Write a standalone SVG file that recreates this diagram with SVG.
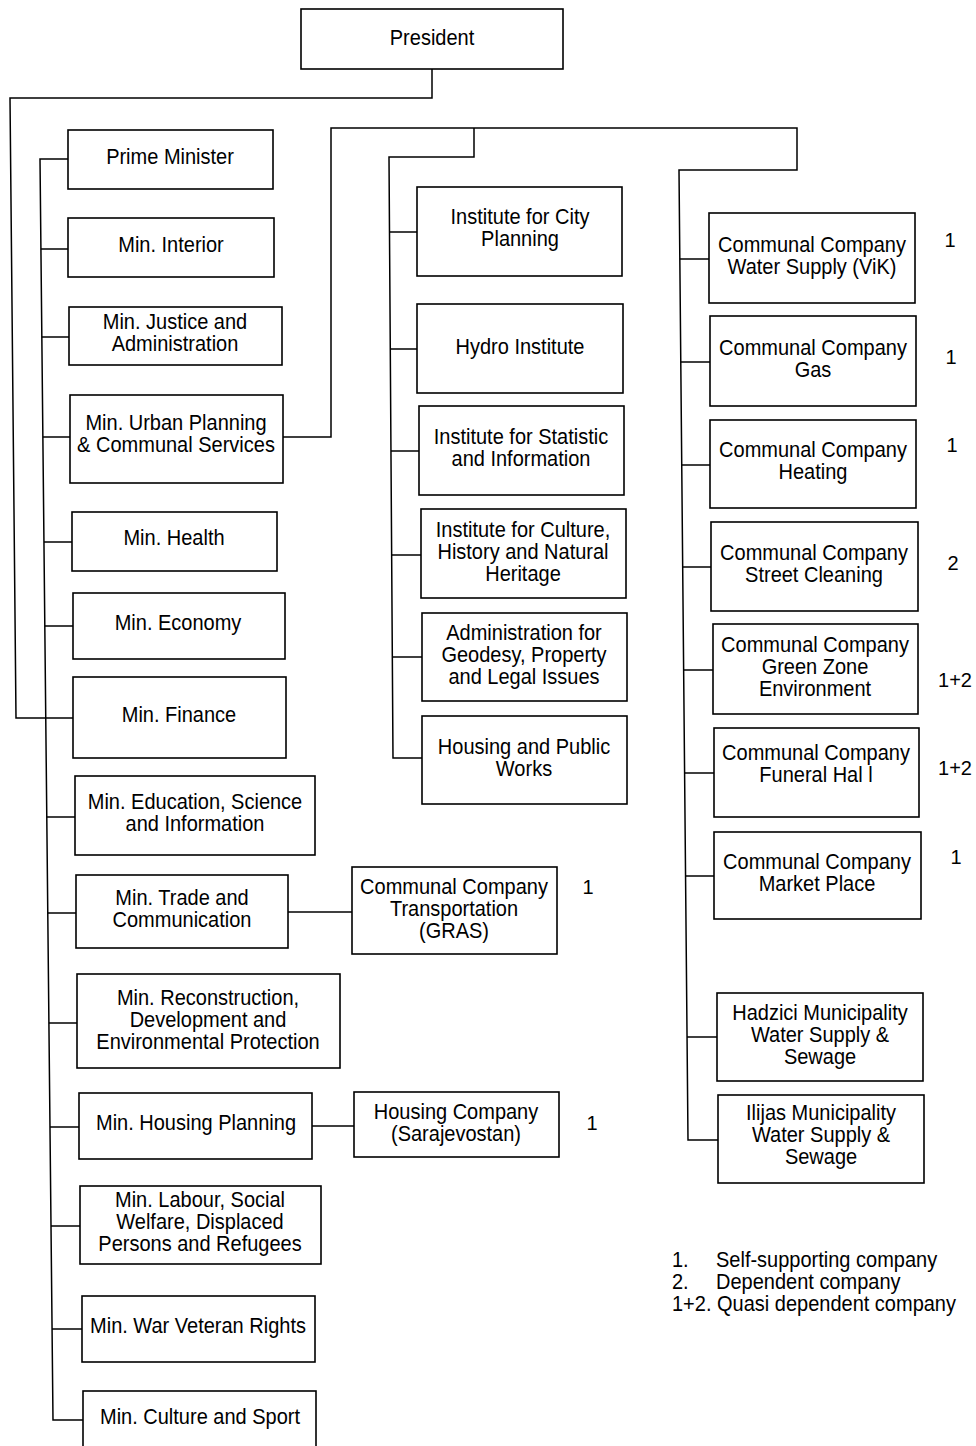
<svg xmlns="http://www.w3.org/2000/svg" width="976" height="1446" viewBox="0 0 976 1446">
<style>
.b{fill:#fff;stroke:#000;stroke-width:1.6}
.c{fill:none;stroke:#000;stroke-width:1.5}
text{font-family:"Liberation Sans",Arial,sans-serif;font-size:20px;fill:#000}
.t{text-anchor:middle}
</style>
<rect width="976" height="1446" fill="#fff"/>
<g id="connectors" class="c">
<polyline points="432,69 432,98 10,98 16,718 73,718"/>
<polyline points="68,159 40,159 53,1420 83,1420"/>
<line x1="40.9" y1="249" x2="68" y2="249"/>
<line x1="41.8" y1="337" x2="69" y2="337"/>
<line x1="42.9" y1="437" x2="70" y2="437"/>
<line x1="44" y1="542" x2="72" y2="542"/>
<line x1="44.8" y1="626" x2="73" y2="626"/>
<line x1="46.8" y1="817" x2="75" y2="817"/>
<line x1="47.8" y1="913" x2="76" y2="913"/>
<line x1="48.9" y1="1023" x2="77" y2="1023"/>
<line x1="50" y1="1127" x2="79" y2="1127"/>
<line x1="51" y1="1226" x2="80" y2="1226"/>
<line x1="52" y1="1329" x2="82" y2="1329"/>
<line x1="288" y1="912" x2="352" y2="912"/>
<line x1="312" y1="1126" x2="354" y2="1126"/>
<polyline points="283,437 331,437 331,128 797,128 797,170 679,170 688,1140 718,1140"/>
<polyline points="474,128 474,157 389,157 393,758 422,758"/>
<line x1="389.3" y1="232" x2="417" y2="232"/>
<line x1="390.2" y1="349" x2="417" y2="349"/>
<line x1="391" y1="451" x2="419" y2="451"/>
<line x1="391.8" y1="555" x2="421" y2="555"/>
<line x1="392.6" y1="657" x2="422" y2="657"/>
<line x1="679.8" y1="259" x2="709" y2="259"/>
<line x1="680.8" y1="362" x2="710" y2="362"/>
<line x1="681.7" y1="465" x2="710" y2="465"/>
<line x1="682.7" y1="567" x2="711" y2="567"/>
<line x1="683.6" y1="670" x2="713" y2="670"/>
<line x1="684.6" y1="773" x2="714" y2="773"/>
<line x1="685.5" y1="876" x2="714" y2="876"/>
<line x1="687" y1="1037" x2="717" y2="1037"/>
</g>
<g id="president"><rect class="b" x="301" y="9" width="262" height="60"/><text class="t" transform="translate(432,45) scale(1,1.1)"><tspan x="0" y="0">President</tspan></text></g>
<g id="prime-minister"><rect class="b" x="68" y="130" width="205" height="59"/><text class="t" transform="translate(170,164) scale(1,1.1)"><tspan x="0" y="0">Prime Minister</tspan></text></g>
<g id="min-interior"><rect class="b" x="68" y="218" width="206" height="59"/><text class="t" transform="translate(171,252) scale(1,1.1)"><tspan x="0" y="0">Min. Interior</tspan></text></g>
<g id="min-justice"><rect class="b" x="69" y="307" width="213" height="58"/><text class="t" transform="translate(175,329) scale(1,1.1)"><tspan x="0" y="0">Min. Justice and</tspan><tspan x="0" y="20">Administration</tspan></text></g>
<g id="min-urban"><rect class="b" x="70" y="395" width="213" height="88"/><text class="t" transform="translate(176,430) scale(1,1.1)"><tspan x="0" y="0">Min. Urban Planning</tspan><tspan x="0" y="20">&amp; Communal Services</tspan></text></g>
<g id="min-health"><rect class="b" x="72" y="512" width="205" height="59"/><text class="t" transform="translate(174,545) scale(1,1.1)"><tspan x="0" y="0">Min. Health</tspan></text></g>
<g id="min-economy"><rect class="b" x="73" y="593" width="212" height="66"/><text class="t" transform="translate(178,630) scale(1,1.1)"><tspan x="0" y="0">Min. Economy</tspan></text></g>
<g id="min-finance"><rect class="b" x="73" y="677" width="213" height="81"/><text class="t" transform="translate(179,722) scale(1,1.1)"><tspan x="0" y="0">Min. Finance</tspan></text></g>
<g id="min-education"><rect class="b" x="75" y="776" width="240" height="79"/><text class="t" transform="translate(195,809) scale(1,1.1)"><tspan x="0" y="0">Min. Education, Science</tspan><tspan x="0" y="20">and Information</tspan></text></g>
<g id="min-trade"><rect class="b" x="76" y="875" width="212" height="73"/><text class="t" transform="translate(182,905) scale(1,1.1)"><tspan x="0" y="0">Min. Trade and</tspan><tspan x="0" y="20">Communication</tspan></text></g>
<g id="min-reconstruction"><rect class="b" x="77" y="974" width="263" height="94"/><text class="t" transform="translate(208,1005) scale(1,1.1)"><tspan x="0" y="0">Min. Reconstruction,</tspan><tspan x="0" y="20">Development and</tspan><tspan x="0" y="40">Environmental Protection</tspan></text></g>
<g id="min-housing"><rect class="b" x="79" y="1093" width="233" height="66"/><text class="t" transform="translate(196,1130) scale(1,1.1)"><tspan x="0" y="0">Min. Housing Planning</tspan></text></g>
<g id="min-labour"><rect class="b" x="80" y="1186" width="241" height="78"/><text class="t" transform="translate(200,1207) scale(1,1.1)"><tspan x="0" y="0">Min. Labour, Social</tspan><tspan x="0" y="20">Welfare, Displaced</tspan><tspan x="0" y="40">Persons and Refugees</tspan></text></g>
<g id="min-war"><rect class="b" x="82" y="1296" width="233" height="66"/><text class="t" transform="translate(198,1333) scale(1,1.1)"><tspan x="0" y="0">Min. War Veteran Rights</tspan></text></g>
<g id="min-culture"><rect class="b" x="83" y="1391" width="233" height="62"/><text class="t" transform="translate(200,1424) scale(1,1.1)"><tspan x="0" y="0">Min. Culture and Sport</tspan></text></g>
<g id="cc-transport"><rect class="b" x="352" y="867" width="205" height="87"/><text class="t" transform="translate(454,894) scale(1,1.1)"><tspan x="0" y="0">Communal Company</tspan><tspan x="0" y="20">Transportation</tspan><tspan x="0" y="40">(GRAS)</tspan></text><text class="t" x="588" y="894">1</text></g>
<g id="housing-company"><rect class="b" x="354" y="1092" width="205" height="65"/><text class="t" transform="translate(456,1119) scale(1,1.1)"><tspan x="0" y="0">Housing Company</tspan><tspan x="0" y="20">(Sarajevostan)</tspan></text><text class="t" x="592" y="1130">1</text></g>
<g id="inst-city"><rect class="b" x="417" y="187" width="205" height="89"/><text class="t" transform="translate(520,224) scale(1,1.1)"><tspan x="0" y="0">Institute for City</tspan><tspan x="0" y="20">Planning</tspan></text></g>
<g id="hydro"><rect class="b" x="417" y="304" width="206" height="89"/><text class="t" transform="translate(520,354) scale(1,1.1)"><tspan x="0" y="0">Hydro Institute</tspan></text></g>
<g id="inst-statistic"><rect class="b" x="419" y="406" width="205" height="89"/><text class="t" transform="translate(521,444) scale(1,1.1)"><tspan x="0" y="0">Institute for Statistic</tspan><tspan x="0" y="20">and Information</tspan></text></g>
<g id="inst-culture"><rect class="b" x="421" y="509" width="205" height="89"/><text class="t" transform="translate(523,537) scale(1,1.1)"><tspan x="0" y="0">Institute for Culture,</tspan><tspan x="0" y="20">History and Natural</tspan><tspan x="0" y="40">Heritage</tspan></text></g>
<g id="geodesy"><rect class="b" x="422" y="613" width="205" height="88"/><text class="t" transform="translate(524,640) scale(1,1.1)"><tspan x="0" y="0">Administration for</tspan><tspan x="0" y="20">Geodesy, Property</tspan><tspan x="0" y="40">and Legal Issues</tspan></text></g>
<g id="housing-public-works"><rect class="b" x="422" y="716" width="205" height="88"/><text class="t" transform="translate(524,754) scale(1,1.1)"><tspan x="0" y="0">Housing and Public</tspan><tspan x="0" y="20">Works</tspan></text></g>
<g id="cc-water"><rect class="b" x="709" y="213" width="206" height="90"/><text class="t" transform="translate(812,252) scale(1,1.1)"><tspan x="0" y="0">Communal Company</tspan><tspan x="0" y="20">Water Supply (ViK)</tspan></text><text class="t" x="950" y="247">1</text></g>
<g id="cc-gas"><rect class="b" x="710" y="316" width="206" height="90"/><text class="t" transform="translate(813,355) scale(1,1.1)"><tspan x="0" y="0">Communal Company</tspan><tspan x="0" y="20">Gas</tspan></text><text class="t" x="951" y="364">1</text></g>
<g id="cc-heating"><rect class="b" x="710" y="420" width="206" height="88"/><text class="t" transform="translate(813,457) scale(1,1.1)"><tspan x="0" y="0">Communal Company</tspan><tspan x="0" y="20">Heating</tspan></text><text class="t" x="952" y="452">1</text></g>
<g id="cc-street"><rect class="b" x="711" y="522" width="207" height="89"/><text class="t" transform="translate(814,560) scale(1,1.1)"><tspan x="0" y="0">Communal Company</tspan><tspan x="0" y="20">Street Cleaning</tspan></text><text class="t" x="953" y="570">2</text></g>
<g id="cc-green"><rect class="b" x="713" y="624" width="205" height="90"/><text class="t" transform="translate(815,652) scale(1,1.1)"><tspan x="0" y="0">Communal Company</tspan><tspan x="0" y="20">Green Zone</tspan><tspan x="0" y="40">Environment</tspan></text><text class="t" x="955" y="687">1+2</text></g>
<g id="cc-funeral"><rect class="b" x="714" y="728" width="205" height="89"/><text class="t" transform="translate(816,760) scale(1,1.1)"><tspan x="0" y="0">Communal Company</tspan><tspan x="0" y="20">Funeral Hal l</tspan></text><text class="t" x="955" y="775">1+2</text></g>
<g id="cc-market"><rect class="b" x="714" y="832" width="207" height="87"/><text class="t" transform="translate(817,869) scale(1,1.1)"><tspan x="0" y="0">Communal Company</tspan><tspan x="0" y="20">Market Place</tspan></text><text class="t" x="956" y="864">1</text></g>
<g id="hadzici"><rect class="b" x="717" y="993" width="206" height="88"/><text class="t" transform="translate(820,1020) scale(1,1.1)"><tspan x="0" y="0">Hadzici Municipality</tspan><tspan x="0" y="20">Water Supply &amp;</tspan><tspan x="0" y="40">Sewage</tspan></text></g>
<g id="ilijas"><rect class="b" x="718" y="1095" width="206" height="88"/><text class="t" transform="translate(821,1120) scale(1,1.1)"><tspan x="0" y="0">Ilijas Municipality</tspan><tspan x="0" y="20">Water Supply &amp;</tspan><tspan x="0" y="40">Sewage</tspan></text></g>
<g id="legend">
<text transform="translate(672,1267) scale(1,1.1)"><tspan x="0" y="0">1.</tspan><tspan x="0" y="20">2.</tspan><tspan x="0" y="40">1+2. Quasi dependent company</tspan></text>
<text transform="translate(716,1267) scale(1,1.1)"><tspan x="0" y="0">Self-supporting company</tspan><tspan x="0" y="20">Dependent company</tspan></text>
</g>
</svg>
